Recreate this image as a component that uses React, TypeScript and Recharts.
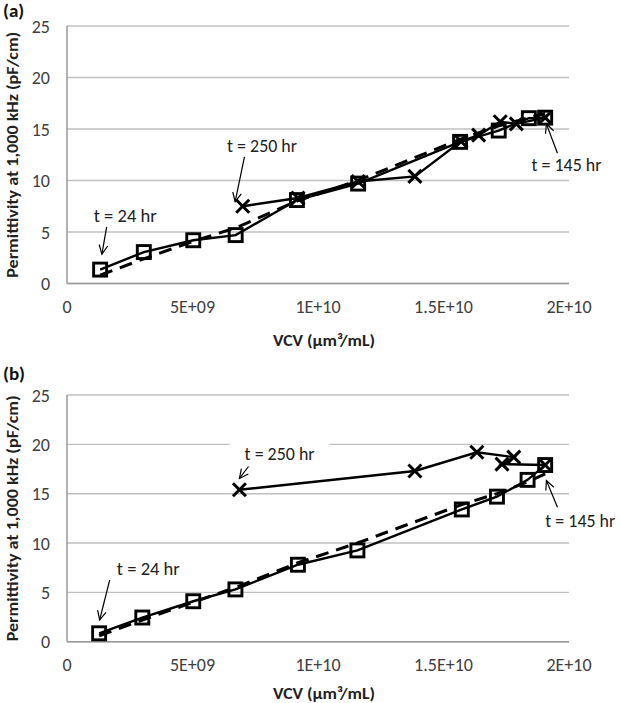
import React from "react";
import { LineChart, Line, XAxis, YAxis, CartesianGrid, ReferenceDot, ReferenceLine } from "recharts";

// shared axes
const xTicks = [0, 5e9, 1e10, 1.5e10, 2e10];
const xTickLabels = ["0", "5E+09", "1E+10", "1.5E+10", "2E+10"];
const yTicks = [0, 5, 10, 15, 20, 25];

// panel (a)
const growthVcvA = [1.32e9, 3.06e9, 5.03e9, 6.72e9, 9.16e9, 11.6e9, 15.66e9, 17.2e9, 18.4e9, 19.05e9];
const growthPermA = [1.35, 3.05, 4.2, 4.7, 8.1, 9.7, 13.75, 14.85, 16.05, 16.1];
const modelPermA = [0.8, 2.4, 4.1, 5.4, 8.0, 10.0, 14.0, 15.3, 16.1, 16.5];
const deathVcvA = [19.05e9, 17.9e9, 17.26e9, 16.4e9, 15.7e9, 13.86e9, 11.6e9, 9.2e9, 7.0e9];
const deathPermA = [16.1, 15.5, 15.7, 14.4, 13.8, 10.4, 9.9, 8.3, 7.5];

// panel (b)
const growthVcvB = [1.28e9, 3.0e9, 5.03e9, 6.71e9, 9.2e9, 11.57e9, 15.73e9, 17.13e9, 18.35e9, 19.05e9];
const growthPermB = [0.85, 2.45, 4.1, 5.3, 7.8, 9.25, 13.4, 14.7, 16.4, 17.9];
const modelPermB = [0.6, 2.2, 4.0, 5.5, 8.0, 10.0, 13.9, 15.0, 16.2, 17.0];
const deathVcvB = [19.05e9, 17.33e9, 17.8e9, 16.33e9, 13.86e9, 6.87e9];
const deathPermB = [17.9, 18.0, 18.7, 19.2, 17.3, 15.4];

// annotation anchors (data coordinates): text position, arrow tail, arrow head
const notesA = [
  { text: "t = 24 hr", x: 2.32e9, y: 6.64, fx: 1.58e9, fy: 5.5, tx: 1.39e9, ty: 2.85, box: false },
  { text: "t = 250 hr", x: 7.77e9, y: 13.4, fx: 7.07e9, fy: 12.3, tx: 6.7e9, ty: 7.94, box: false },
  { text: "t = 145 hr", x: 19.9e9, y: 11.58, fx: 19.54e9, fy: 12.65, tx: 19.1e9, ty: 15.5, box: false },
];
const notesB = [
  { text: "t = 24 hr", x: 3.24e9, y: 7.43, fx: 1.7e9, fy: 6.25, tx: 1.3e9, ty: 2.2, box: false },
  { text: "t = 250 hr", x: 8.47e9, y: 19.07, fx: 7.27e9, fy: 17.88, tx: 6.87e9, ty: 16.54, box: true },
  { text: "t = 145 hr", x: 20.45e9, y: 12.3, fx: 19.54e9, fy: 13.62, tx: 19.1e9, ty: 16.33, box: false },
];

const FONT = "Carlito, Calibri, 'Liberation Sans Narrow', 'DejaVu Sans Condensed', Roboto, sans-serif";
const BOLD_FONT = "Carlito, Calibri, 'Liberation Sans', Arial, sans-serif";

const zip = (xs: number[], ys: number[]) => xs.map((x, i) => ({ x, y: ys[i] }));

const SquareDot = (props: any) => {
  const { cx, cy } = props;
  if (cx == null || cy == null) return null;
  return <rect x={cx - 6.5} y={cy - 6.5} width={13} height={13} fill="none" stroke="#000" strokeWidth={2.9} />;
};

const CrossDot = (props: any) => {
  const { cx, cy } = props;
  if (cx == null || cy == null) return null;
  const s = 6.5;
  return (
    <g stroke="#000" strokeWidth={3}>
      <line x1={cx - s} y1={cy - s} x2={cx + s} y2={cy + s} />
      <line x1={cx - s} y1={cy + s} x2={cx + s} y2={cy - s} />
    </g>
  );
};

const Arrow = (props: any) => {
  const { x1, y1, x2, y2 } = props;
  const a = Math.atan2(y2 - y1, x2 - x1);
  const L = 10;
  const w = 0.45;
  return (
    <g stroke="#000" strokeWidth={1.2} fill="none">
      <line x1={x1} y1={y1} x2={x2} y2={y2} />
      <polyline
        points={`${x2 - L * Math.cos(a - w)},${y2 - L * Math.sin(a - w)} ${x2},${y2} ${x2 - L * Math.cos(a + w)},${y2 - L * Math.sin(a + w)}`}
      />
    </g>
  );
};

const XTick = (props: any) => {
  const { x, y, payload } = props;
  const i = xTicks.indexOf(payload.value);
  return (
    <text x={x} y={y + 29} textAnchor="middle" fontFamily={FONT} fontSize={18} fill="#404040">
      {i >= 0 ? xTickLabels[i] : payload.value}
    </text>
  );
};

const YTick = (props: any) => {
  const { x, y, payload } = props;
  return (
    <text x={x - 17} y={y + 6.5} textAnchor="end" fontFamily={FONT} fontSize={18} fill="#404040">
      {payload.value}
    </text>
  );
};

interface PanelProps {
  growth: { x: number; y: number }[];
  model: { x: number; y: number }[];
  death: { x: number; y: number }[];
  notes: typeof notesA;
  height: number;
  top: number;
  xAxisHeight: number;
  titleGap: number;
}

const Panel: React.FC<PanelProps> = ({ growth, model, death, notes, height, top, xAxisHeight, titleGap }) => (
  <LineChart width={620} height={height} margin={{ top, right: 51, bottom: 0, left: 0 }}>
    <CartesianGrid vertical={false} stroke="#c0c0c0" strokeWidth={1.4} />
    <XAxis
      type="number"
      dataKey="x"
      domain={[0, 2e10]}
      ticks={xTicks}
      height={xAxisHeight}
      tickLine={false}
      tickSize={0}
      tickMargin={0}
      axisLine={{ stroke: "#9a9a9a", strokeWidth: 1.5 }}
      tick={<XTick />}
      label={(p: any) => {
        const vb = p.viewBox;
        return (
          <text
            x={vb.x + vb.width / 2 + 6}
            y={vb.y + titleGap}
            textAnchor="middle"
            fontFamily={BOLD_FONT}
            fontWeight="bold"
            fontSize={16}
            fill="#222"
            textLength={102}
            lengthAdjust="spacingAndGlyphs"
          >
            VCV (µm³/mL)
          </text>
        );
      }}
    />
    <YAxis
      type="number"
      domain={[0, 25]}
      ticks={yTicks}
      width={67}
      tickLine={false}
      tickSize={0}
      tickMargin={0}
      axisLine={{ stroke: "#9a9a9a", strokeWidth: 1.5 }}
      tick={<YTick />}
      label={(p: any) => {
        const vb = p.viewBox;
        const cx = 18;
        const cy = vb.y + vb.height / 2;
        return (
          <text
            x={cx}
            y={cy}
            transform={`rotate(-90 ${cx} ${cy})`}
            textAnchor="middle"
            fontFamily={BOLD_FONT}
            fontWeight="bold"
            fontSize={15}
            fill="#222"
            textLength={246}
            lengthAdjust="spacingAndGlyphs"
          >
            Permittivity at 1,000 kHz (pF/cm)
          </text>
        );
      }}
    />
    <Line
      data={model}
      dataKey="y"
      stroke="#000"
      strokeWidth={3}
      strokeDasharray="13 8"
      dot={false}
      isAnimationActive={false}
    />
    <Line data={death} dataKey="y" stroke="#000" strokeWidth={2.4} dot={<CrossDot />} isAnimationActive={false} />
    <Line data={growth} dataKey="y" stroke="#000" strokeWidth={2.4} dot={<SquareDot />} isAnimationActive={false} />
    {notes.map((n) => (
      <ReferenceDot
        key={"t" + n.text}
        x={n.x}
        y={n.y}
        ifOverflow="visible"
        shape={(p: any) => (
          <g>
            {n.box && <rect x={p.cx - 50} y={p.cy - 13} width={100} height={26} fill="#fff" />}
            <text
              x={p.cx}
              y={p.cy + 6.5}
              textAnchor="middle"
              fontFamily={FONT}
              fontSize={18}
              fill="#222"
              textLength={n.text.length * 7}
              lengthAdjust="spacingAndGlyphs"
            >
              {n.text}
            </text>
          </g>
        )}
      />
    ))}
    {notes.map((n) => (
      <ReferenceLine
        key={"a" + n.text}
        ifOverflow="visible"
        segment={[
          { x: n.fx, y: n.fy },
          { x: n.tx, y: n.ty },
        ]}
        shape={<Arrow />}
      />
    ))}
  </LineChart>
);

const letterStyle: React.CSSProperties = {
  position: "absolute",
  left: 3,
  fontFamily: BOLD_FONT,
  fontWeight: "bold",
  fontSize: 19,
  lineHeight: "20px",
  color: "#111",
};

const App: React.FC = () => (
  <div style={{ position: "absolute", left: 0, top: 0, width: 620, height: 703, background: "#fff" }}>
    <div style={{ position: "absolute", left: 0, top: 0 }}>
      <Panel
        growth={zip(growthVcvA, growthPermA)}
        model={zip(growthVcvA, modelPermA)}
        death={zip(deathVcvA, deathPermA)}
        notes={notesA}
        height={350}
        top={26}
        xAxisHeight={66.5}
        titleGap={62}
      />
    </div>
    <div style={{ position: "absolute", left: 0, top: 350 }}>
      <Panel
        growth={zip(growthVcvB, growthPermB)}
        model={zip(growthVcvB, modelPermB)}
        death={zip(deathVcvB, deathPermB)}
        notes={notesB}
        height={353}
        top={45}
        xAxisHeight={61.3}
        titleGap={57}
      />
    </div>
    <div style={{ ...letterStyle, top: 1 }}>(a)</div>
    <div style={{ ...letterStyle, top: 364 }}>(b)</div>
  </div>
);

export default App;
